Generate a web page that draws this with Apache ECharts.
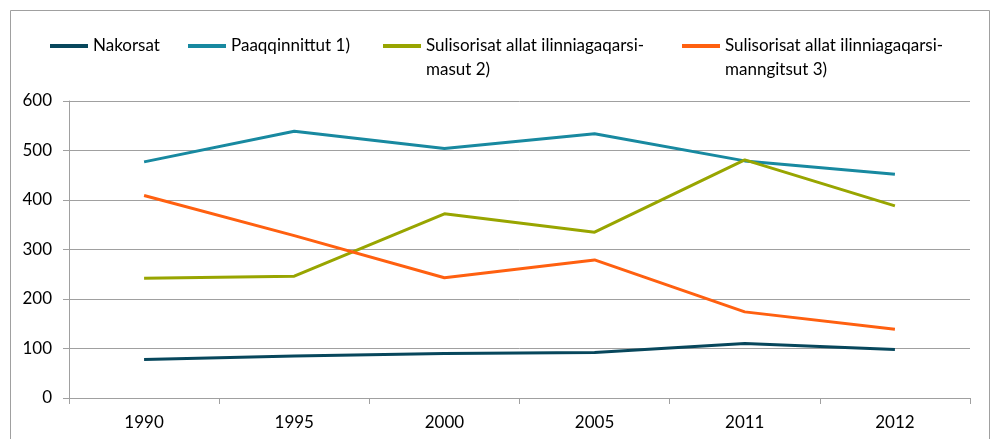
<!DOCTYPE html>
<html>
<head>
<meta charset="utf-8">
<script src="https://cdn.jsdelivr.net/npm/echarts@6/dist/echarts.min.js"></script>
<style>
html,body{margin:0;padding:0;background:#fff;}
#chart{width:996px;height:439px;}
</style>
</head>
<body>
<div id="chart"></div>
<script>
const years = ['1990', '1995', '2000', '2005', '2011', '2012'];
const nakorsat = [78, 85, 90, 92, 110, 98];
const paaqqinnittut = [477, 539, 504, 534, 479, 452];
const ilinniagaqarsimasut = [242, 246, 372, 335, 481, 388];
const ilinniagaqarsimanngitsut = [409, 328, 243, 279, 174, 139];
const yTicks = [0, 100, 200, 300, 400, 500, 600];

const names = ['Nakorsat', 'Paaqqinnittut 1)', 'Sulisorisat allat ilinniagaqarsimasut 2)', 'Sulisorisat allat ilinniagaqarsimanngitsut 3)'];
const firstLines = ['Nakorsat', 'Paaqqinnittut 1)', 'Sulisorisat allat ilinniagaqarsi-', 'Sulisorisat allat ilinniagaqarsi-'];
const secondLines = ['', '', 'masut 2)', 'manngitsut 3)'];
const colors = ['#07475c', '#1889a0', '#98a500', '#ff6010'];
const values = [nakorsat, paaqqinnittut, ilinniagaqarsimasut, ilinniagaqarsimanngitsut];
const legendLeft = [50, 188, 383, 682];

const FONT = 'Lato';
const FS = 17;

const chart = echarts.init(document.getElementById('chart'), null, {renderer: 'canvas'});

const legends = names.map((n, i) => ({
  show: true,
  data: [n],
  left: legendLeft[i],
  top: 36,
  icon: 'rect',
  itemWidth: 38,
  itemHeight: 4,
  padding: 0,
  formatter: () => firstLines[i],
  textStyle: {fontFamily: FONT, fontSize: FS, color: '#000', lineHeight: 20}
}));

const graphics = [
  {type: 'rect', shape: {x: 10.5, y: 10.5, width: 979, height: 460}, style: {fill: 'none', stroke: '#a0a0a0', lineWidth: 1}, silent: true}
];
secondLines.forEach((t, i) => {
  if (t) graphics.push({
    type: 'text', left: legendLeft[i] + 43, top: 61,
    style: {text: t, fontFamily: FONT, fontSize: FS, fill: '#000'}
  });
});

const option = {
  animation: false,
  backgroundColor: '#fff',
  legend: legends,
  graphic: graphics,
  grid: {left: 69, right: 26, top: 101, bottom: 41, containLabel: false},
  xAxis: {
    type: 'category',
    data: years,
    boundaryGap: true,
    axisLine: {show: true, lineStyle: {color: '#a0a0a0', width: 1}},
    axisTick: {show: true, length: 6, inside: false, lineStyle: {color: '#a0a0a0'}},
    axisLabel: {fontFamily: FONT, fontSize: FS, color: '#000', margin: 16},
    splitLine: {show: false}
  },
  yAxis: {
    type: 'value',
    min: yTicks[0],
    max: yTicks[yTicks.length - 1],
    interval: 100,
    axisLine: {show: true, lineStyle: {color: '#a0a0a0', width: 1}},
    axisTick: {show: true, length: 6, lineStyle: {color: '#a0a0a0'}},
    axisLabel: {fontFamily: FONT, fontSize: FS, color: '#000', margin: 17},
    splitLine: {show: true, lineStyle: {color: '#a0a0a0', width: 1}}
  },
  series: names.map((n, i) => ({
    name: n,
    type: 'line',
    data: values[i],
    symbol: 'none',
    smooth: false,
    color: colors[i],
    lineStyle: {color: colors[i], width: 3},
    z: 2 + i
  }))
};
chart.setOption(option);
</script>
</body>
</html>
